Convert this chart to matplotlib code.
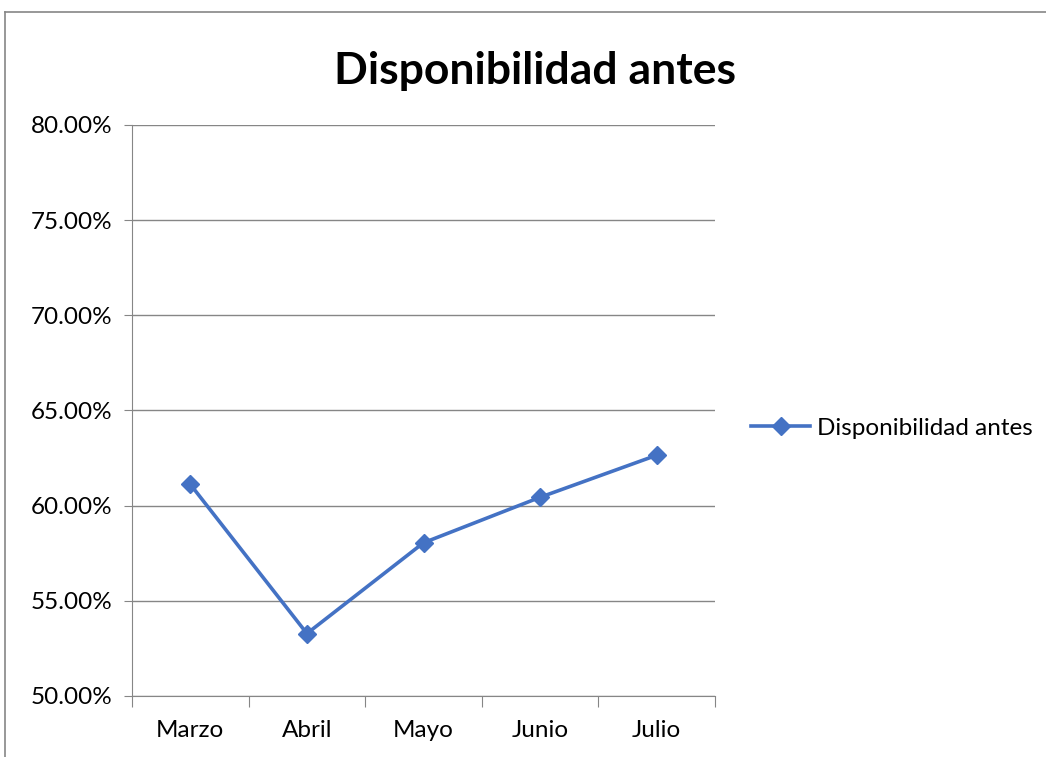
import matplotlib
matplotlib.use('Agg')
import matplotlib.pyplot as plt
from matplotlib.lines import Line2D
from matplotlib.ticker import FuncFormatter, FixedLocator

months = ['Marzo', 'Abril', 'Mayo', 'Junio', 'Julio']
disponibilidad = [61.12, 53.28, 58.05, 60.44, 62.65]
series_name = 'Disponibilidad antes'

plt.rcParams['font.family'] = ['Lato', 'DejaVu Sans']

fig = plt.figure(figsize=(10.46, 7.57), dpi=100)
ax = fig.add_axes([0.1262, 0.0806, 0.5574, 0.7543])

x = list(range(len(months)))
ax.plot(x, disponibilidad, color='#4472C4', lw=2.6, marker='D', ms=9,
        label=series_name)

ax.set_xlim(-0.5, len(months) - 0.5)
ax.set_ylim(50, 80)
ax.set_yticks([50, 55, 60, 65, 70, 75, 80])
ax.yaxis.set_major_formatter(FuncFormatter(lambda v, p: f'{v:.2f}%'))
ax.grid(axis='y', color='#868686', lw=1)
ax.set_axisbelow(True)

# category labels centred, ticks on the boundaries
ax.xaxis.set_major_locator(FixedLocator([i - 0.5 for i in range(len(months) + 1)]))
ax.xaxis.set_major_formatter(FuncFormatter(lambda v, p: ''))
ax.xaxis.set_minor_locator(FixedLocator(x))
ax.set_xticklabels(months, minor=True)
ax.tick_params(axis='x', which='minor', length=0, pad=17, labelsize=17.5)
ax.tick_params(axis='x', which='major', length=8, color='#868686', direction='out')
ax.tick_params(axis='y', length=6, color='#868686', labelsize=17.5, pad=8)

for s in ['top', 'right']:
    ax.spines[s].set_visible(False)
for s in ['left', 'bottom']:
    ax.spines[s].set_color('#868686')

fig.text(0.5115, 0.906, series_name, ha='center', va='center',
         fontsize=32, fontweight='bold')

ax.legend(loc='center left', bbox_to_anchor=(1.025, 0.469), frameon=False,
          fontsize=17.5, handlelength=2.4, handletextpad=0.3)

# outer chart frame (cropped at right and bottom)
fig.add_artist(Line2D([5 / 1046, 5 / 1046], [0, 1 - 12 / 757],
                      transform=fig.transFigure, color='#868686', lw=1.2))
fig.add_artist(Line2D([5 / 1046, 1], [1 - 12 / 757, 1 - 12 / 757],
                      transform=fig.transFigure, color='#868686', lw=1.2))

fig.savefig('out.png', dpi=100)
